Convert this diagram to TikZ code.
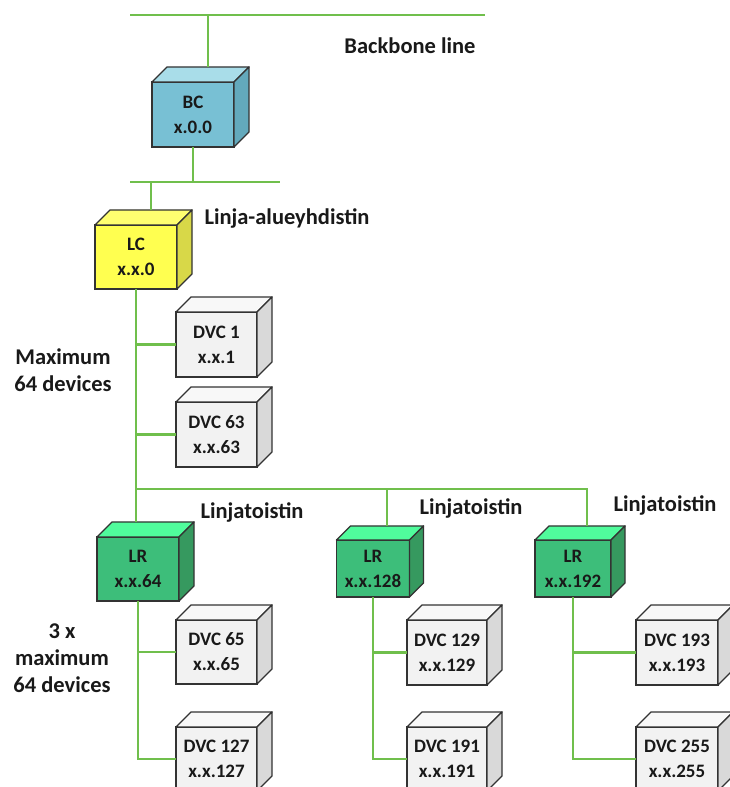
\documentclass[tikz,border=0pt]{standalone}
\usepackage{fontspec}
\setmainfont{Carlito}
\usetikzlibrary{calc}

\definecolor{busgreen}{HTML}{70BF4C}
\definecolor{bc}{HTML}{78C0D4}
\definecolor{bctop}{HTML}{A9DDE9}
\definecolor{bcside}{HTML}{63A9BC}
\definecolor{lc}{HTML}{FFFF50}
\definecolor{lctop}{HTML}{FFFF70}
\definecolor{lcside}{HTML}{D8D848}
\definecolor{lr}{HTML}{3DBE7A}
\definecolor{lrtop}{HTML}{50FC9C}
\definecolor{lrside}{HTML}{36995F}
\definecolor{dvc}{HTML}{F2F2F2}
\definecolor{dvctop}{HTML}{F8F8F8}
\definecolor{dvcside}{HTML}{D9D9D9}

\tikzset{
    box/.style={draw=black!80, line width=1.4pt, inner sep=0, outer sep=0, align=center,
        text=black!90, font=\bfseries\fontsize{19}{25}\selectfont},
    bus/.style={draw=busgreen, line width=2.7pt},
    lbl/.style={text=black!90, font=\bfseries\fontsize{22.5}{27}\selectfont, align=center}
}

% cube: name, position, width, height, depth, colour, text
\newcommand{\devbox}[7]{%
    \node[box, fill=#6, minimum width=#3, minimum height=#4] (#1) at (#2) {#7};
    \filldraw[draw=black!80, line width=1.4pt, line join=round, fill=#6top]
        (#1.north west) -- ++(#5,#5) -- ($(#1.north east)+(#5,#5)$) -- (#1.north east) -- cycle;
    \filldraw[draw=black!80, line width=1.4pt, line join=round, fill=#6side]
        (#1.north east) -- ++(#5,#5) -- ($(#1.south east)+(#5,#5)$) -- (#1.south east) -- cycle;
    \coordinate (#1top) at ($(#1.north)+(#5,#5)$);
}

\begin{document}
\begin{tikzpicture}[x=1pt, y=1pt]
    \useasboundingbox (0,0) rectangle (729,787);

    \devbox{bc}{193,672.5}{82}{65}{15}{bc}{BC\\x.0.0}
    \devbox{lc}{136,530}{82}{64}{15}{lc}{LC\\x.x.0}
    \devbox{dvc1}{216.5,442.5}{81}{65}{15}{dvc}{DVC 1\\x.x.1}
    \devbox{dvc63}{216.5,352.5}{81}{65}{15}{dvc}{DVC 63\\x.x.63}
    \devbox{lr64}{138,218}{82}{64}{15}{lr}{LR\\x.x.64}
    \devbox{lr128}{373,218.5}{73}{57}{14}{lr}{LR\\x.x.128}
    \devbox{lr192}{573,218.5}{76}{57}{14}{lr}{LR\\x.x.192}
    \devbox{dvc65}{216.5,135}{81}{64}{15}{dvc}{DVC 65\\x.x.65}
    \devbox{dvc127}{216.5,28}{81}{64}{15}{dvc}{DVC 127\\x.x.127}
    \devbox{dvc129}{447,134.5}{80}{65}{15}{dvc}{DVC 129\\x.x.129}
    \devbox{dvc191}{447,28}{80}{64}{15}{dvc}{DVC 191\\x.x.191}
    \devbox{dvc193}{677,134.5}{82}{65}{15}{dvc}{DVC 193\\x.x.193}
    \devbox{dvc255}{677,28}{82}{64}{15}{dvc}{DVC 255\\x.x.255}

    % backbone and main line
    \coordinate (bbl) at (130,772);
    \coordinate (bbr) at (485,772);
    \coordinate (mll) at (130,605);
    \coordinate (mlr) at (280,605);
    \draw[bus] (bbl) -- (bbr);
    \draw[bus] (bctop) -- (bctop |- bbl);
    \draw[bus] (mll) -- (mlr);
    \draw[bus] (bc.south) -- (bc.south |- mll);
    \draw[bus] (lctop) -- (lctop |- mll);

    % line under the line coupler
    \coordinate (lrbus) at ($(lc.south |- lr64top)+(0,33)$);
    \draw[bus] (lc.south) -- (lc.south |- lr64top);
    \draw[bus] (lc.south |- dvc1.west) -- (dvc1.west);
    \draw[bus] (lc.south |- dvc63.west) -- (dvc63.west);
    \draw[bus] (lrbus) -- (lrbus -| lr192top) -- (lr192top);
    \draw[bus] (lrbus -| lr128top) -- (lr128top);

    % line repeaters
    \draw[bus] (lr64.south) -- (lr64.south |- dvc127.west) -- (dvc127.west);
    \draw[bus] (lr64.south |- dvc65.west) -- (dvc65.west);
    \draw[bus] (lr128.south) -- (lr128.south |- dvc191.west) -- (dvc191.west);
    \draw[bus] (lr128.south |- dvc129.west) -- (dvc129.west);
    \draw[bus] (lr192.south) -- (lr192.south |- dvc255.west) -- (dvc255.west);
    \draw[bus] (lr192.south |- dvc193.west) -- (dvc193.west);

    % labels
    \node[lbl] (bbtxt) at (410,741) {Backbone line};
    \node[lbl] (lctxt) at (287,569) {Linja-alueyhdistin};
    \node[lbl] (max1) at (63,417) {Maximum\\64 devices};
    \node[lbl] (lrtxt1) at (252,275) {Linjatoistin};
    \node[lbl] (lrtxt2) at (471,279) {Linjatoistin};
    \node[lbl] (lrtxt3) at (665,282) {Linjatoistin};
    \node[lbl] (max3) at (62,129) {3 x\\maximum\\64 devices};
\end{tikzpicture}
\end{document}
